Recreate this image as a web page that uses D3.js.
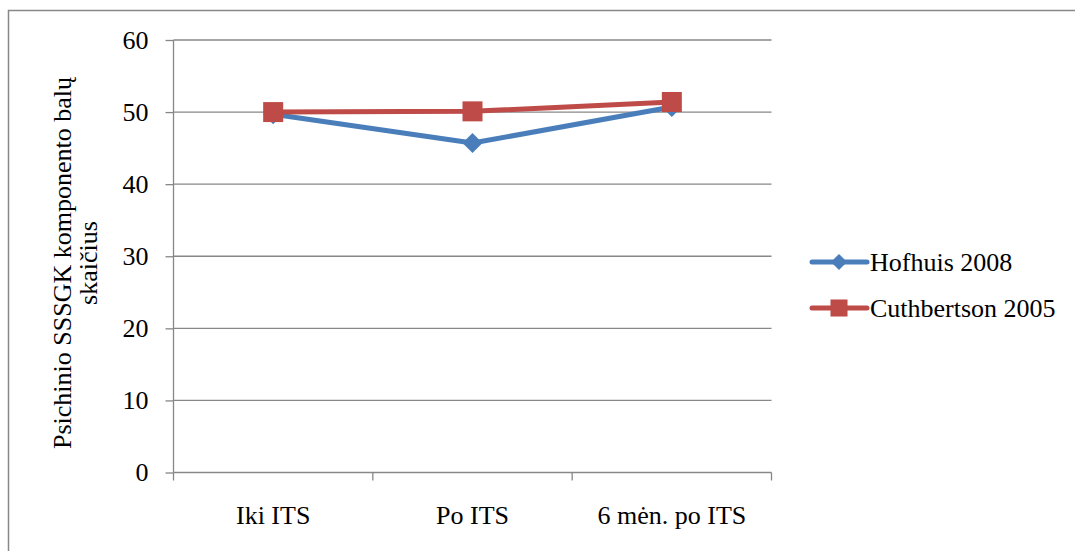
<!DOCTYPE html>
<html><head><meta charset="utf-8">
<script src="https://cdn.jsdelivr.net/npm/d3@7"></script>
<style>body{margin:0;background:#fff}svg{display:block}</style>
</head><body>
<script>
const categories = ["Iki ITS", "Po ITS", "6 mėn. po ITS"];
const hofhuis = [49.7, 45.7, 50.7];
const cuthbertson = [50.0, 50.1, 51.4];
const seriesNames = ["Hofhuis 2008", "Cuthbertson 2005"];
const yTicks = [0, 10, 20, 30, 40, 50, 60];
const yTitle = ["Psichinio SSSGK komponento balų", "skaičius"];

(function () {
const W = 1075, H = 551;
const svg = d3.select("body").append("svg").attr("width", W).attr("height", H);
const FF = '"Liberation Serif"';
const fs = "26px";

svg.append("rect").attr("x", 8.5).attr("y", 10.5).attr("width", 1080).attr("height", 560)
  .attr("fill", "none").attr("stroke", "#888").attr("stroke-width", 1.5);

const pL = 173.5, pR = 771.5, pT = 40, pB = 472.5;
const x = d3.scaleBand().domain(categories).range([pL, pR]);
const y = d3.scaleLinear().domain([0, 60]).range([pB, pT]);

svg.append("g").selectAll("line").data(yTicks.filter(d => d > 0)).join("line")
  .attr("x1", pL).attr("x2", pR).attr("y1", d => y(d)).attr("y2", d => y(d))
  .attr("stroke", "#878787").attr("stroke-width", 1.3);

const ya = svg.append("g").attr("transform", `translate(${pL},0)`)
  .call(d3.axisLeft(y).tickValues(yTicks).tickSize(8).tickPadding(17).tickFormat(d3.format("d")));
ya.select(".domain").attr("stroke", "#878787").attr("stroke-width", 1.3).attr("d", `M0,${pT}V${pB}`);
ya.selectAll(".tick line").attr("stroke", "#878787").attr("stroke-width", 1.3);
ya.selectAll("text").style("font-family", FF).style("font-size", fs).attr("fill", "#000");

const xa = svg.append("g").attr("transform", `translate(0,${pB})`)
  .call(d3.axisBottom(x).tickSize(0).tickPadding(33));
xa.select(".domain").attr("stroke", "#878787").attr("stroke-width", 1.3).attr("d", `M${pL},0H${pR}`);
xa.selectAll("text").style("font-family", FF).style("font-size", fs).attr("fill", "#000");
const bounds = categories.map(c => x(c)).concat([x(categories[categories.length - 1]) + x.bandwidth()]);
svg.append("g").selectAll("line").data(bounds).join("line")
  .attr("x1", d => d).attr("x2", d => d).attr("y1", pB).attr("y2", pB + 8)
  .attr("stroke", "#878787").attr("stroke-width", 1.3);

const cx = c => x(c) + x.bandwidth() / 2;
const blue = "#4A7EBB", red = "#BE4B48";

const line = d3.line().x((d, i) => cx(categories[i])).y(d => y(d));
svg.append("path").datum(hofhuis).attr("d", line).attr("fill", "none").attr("stroke", blue).attr("stroke-width", 5).attr("stroke-linejoin", "round");
svg.append("path").datum(cuthbertson).attr("d", line).attr("fill", "none").attr("stroke", red).attr("stroke-width", 5).attr("stroke-linejoin", "round");

svg.append("g").selectAll("path").data(hofhuis).join("path")
  .attr("transform", (d, i) => `translate(${cx(categories[i])},${y(d)}) rotate(45)`)
  .attr("d", d3.symbol().type(d3.symbolSquare).size(200)).attr("fill", blue);
svg.append("g").selectAll("path").data(cuthbertson).join("path")
  .attr("transform", (d, i) => `translate(${cx(categories[i])},${y(d)})`)
  .attr("d", d3.symbol().type(d3.symbolSquare).size(400)).attr("fill", red);

const yt = svg.append("text").attr("transform", `translate(0,263) rotate(-90)`)
  .style("font-family", FF).style("font-size", fs).attr("text-anchor", "middle");
yt.selectAll("tspan").data(yTitle).join("tspan").attr("x", 0).attr("y", (d, i) => 71 + i * 26).text(d => d);

const legY = [262, 308];
const lg = svg.append("g");
seriesNames.forEach((n, i) => {
  const col = i === 0 ? blue : red;
  lg.append("line").attr("x1", 812).attr("x2", 867).attr("y1", legY[i]).attr("y2", legY[i])
    .attr("stroke", col).attr("stroke-width", 5).attr("stroke-linecap", "round");
  if (i === 0) {
    lg.append("path").attr("transform", `translate(839,${legY[i]}) rotate(45)`)
      .attr("d", d3.symbol().type(d3.symbolSquare).size(130)).attr("fill", col);
  } else {
    lg.append("path").attr("transform", `translate(839,${legY[i]})`)
      .attr("d", d3.symbol().type(d3.symbolSquare).size(290)).attr("fill", col);
  }
  lg.append("text").attr("x", 870).attr("y", legY[i]).attr("dy", "0.35em")
    .style("font-family", FF).style("font-size", fs).text(n);
});
})();
</script>
</body></html>
